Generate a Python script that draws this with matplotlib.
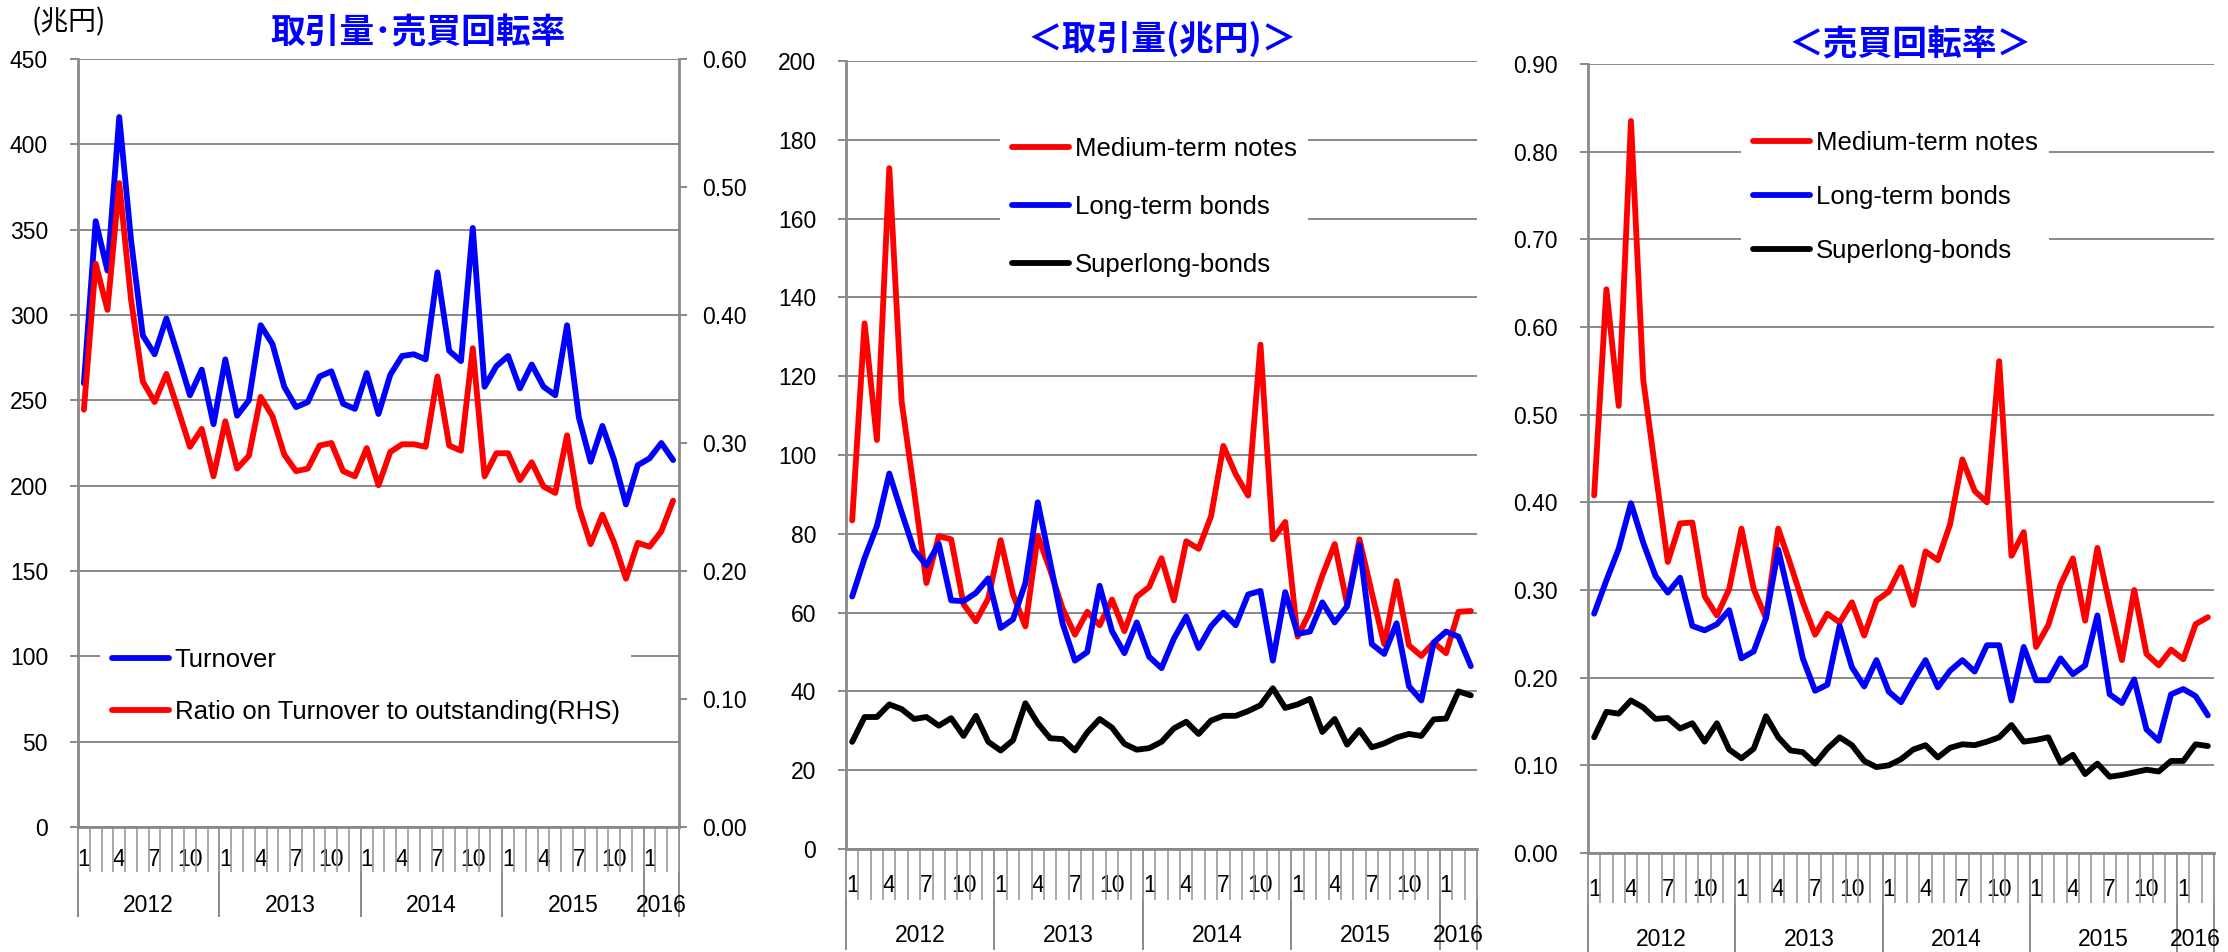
import numpy as np
import matplotlib
matplotlib.use("Agg")
import matplotlib.pyplot as plt
from matplotlib.ticker import FormatStrFormatter

# ---- data: monthly, Jan 2012 - Mar 2016 ----
years = ["2012", "2013", "2014", "2015", "2016"]
months_in_year = [12, 12, 12, 12, 3]
labelled_months = [1, 4, 7, 10]

# total turnover (trillion yen) and turnover ratio (RHS)
turnover = [260, 355, 326, 416, 344, 288, 277, 298, 276, 253, 268, 236,
            274, 241, 250, 294, 283, 258, 246, 249, 264, 267, 248, 245,
            266, 242, 265, 276, 277, 274, 325, 279, 273, 351, 258, 270,
            276, 257, 271, 258, 253, 294, 240, 214, 235, 215, 189, 212,
            216, 225, 215]
turnover_ratio = [0.326, 0.440, 0.404, 0.503, 0.412, 0.348, 0.332, 0.354, 0.326, 0.297, 0.311, 0.274,
                  0.317, 0.280, 0.290, 0.336, 0.321, 0.291, 0.278, 0.280, 0.298, 0.300, 0.278, 0.274,
                  0.296, 0.267, 0.293, 0.299, 0.299, 0.297, 0.352, 0.298, 0.294, 0.374, 0.274, 0.292,
                  0.292, 0.271, 0.285, 0.266, 0.261, 0.306, 0.250, 0.221, 0.244, 0.222, 0.194, 0.222,
                  0.219, 0.231, 0.255]

# trading volume by maturity (trillion yen)
mtn_volume = [83.4, 133.4, 103.8, 172.8, 113.5, 91.0, 67.5, 79.4, 78.6, 62.1, 57.8, 63.6,
              78.4, 64.6, 56.5, 79.5, 70.8, 61.1, 54.4, 60.2, 56.8, 63.3, 55.3, 64.0,
              66.5, 73.8, 63.1, 78.1, 76.2, 84.4, 102.3, 95.1, 89.7, 128.0, 78.6, 83.0,
              53.9, 60.2, 69.4, 77.4, 62.1, 78.6, 65.0, 52.0, 68.0, 51.7, 49.0, 52.4,
              49.7, 60.2, 60.4]
ltb_volume = [64.1, 73.8, 82.0, 95.3, 85.4, 75.9, 72.0, 77.4, 63.1, 62.9, 65.0, 68.7,
              56.1, 58.3, 67.5, 88.0, 72.8, 57.3, 47.8, 50.0, 66.8, 55.3, 49.7, 57.5,
              48.8, 45.9, 53.4, 59.0, 51.0, 56.5, 60.0, 56.8, 64.6, 65.5, 47.8, 65.2,
              54.6, 55.2, 62.6, 57.5, 61.6, 77.2, 52.0, 49.5, 57.3, 41.3, 37.7, 52.4,
              55.2, 53.9, 46.4]
slb_volume = [27.2, 33.5, 33.5, 36.7, 35.5, 33.0, 33.5, 31.3, 33.2, 28.7, 33.8, 27.2,
              25.0, 27.6, 37.0, 31.9, 28.1, 27.9, 25.0, 29.6, 33.0, 30.8, 26.7, 25.2,
              25.6, 27.2, 30.6, 32.3, 29.2, 32.6, 33.8, 33.8, 35.0, 36.5, 40.8, 35.8,
              36.7, 38.1, 29.7, 33.0, 26.5, 30.2, 25.8, 26.8, 28.3, 29.2, 28.7, 32.9,
              33.1, 40.0, 39.0]

# turnover ratio by maturity
mtn_ratio = [0.408, 0.643, 0.510, 0.835, 0.540, 0.435, 0.332, 0.376, 0.377, 0.293, 0.271, 0.301,
             0.370, 0.301, 0.268, 0.370, 0.329, 0.286, 0.249, 0.273, 0.263, 0.286, 0.248, 0.288,
             0.298, 0.326, 0.283, 0.344, 0.334, 0.375, 0.449, 0.413, 0.400, 0.561, 0.339, 0.366,
             0.235, 0.260, 0.306, 0.336, 0.265, 0.348, 0.283, 0.220, 0.300, 0.227, 0.214, 0.232,
             0.221, 0.261, 0.269]
ltb_ratio = [0.273, 0.311, 0.347, 0.399, 0.354, 0.316, 0.297, 0.314, 0.259, 0.254, 0.261, 0.277,
             0.222, 0.230, 0.268, 0.346, 0.286, 0.222, 0.185, 0.192, 0.259, 0.212, 0.190, 0.220,
             0.184, 0.172, 0.197, 0.220, 0.189, 0.208, 0.220, 0.207, 0.237, 0.237, 0.174, 0.235,
             0.197, 0.197, 0.222, 0.204, 0.214, 0.271, 0.181, 0.171, 0.198, 0.141, 0.128, 0.181,
             0.187, 0.179, 0.157]
slb_ratio = [0.132, 0.161, 0.159, 0.174, 0.166, 0.153, 0.154, 0.142, 0.148, 0.127, 0.148, 0.118,
             0.108, 0.119, 0.156, 0.132, 0.117, 0.115, 0.102, 0.119, 0.132, 0.123, 0.105, 0.098,
             0.100, 0.107, 0.118, 0.123, 0.109, 0.120, 0.124, 0.123, 0.127, 0.132, 0.146, 0.127,
             0.129, 0.132, 0.103, 0.112, 0.090, 0.102, 0.087, 0.089, 0.092, 0.095, 0.093, 0.105,
             0.105, 0.124, 0.122]

series_labels = ["Medium-term notes", "Long-term bonds", "Superlong-bonds"]
series_colors = ["#ff0000", "#0000ff", "#000000"]

# ---- styling ----
plt.rcParams['font.family'] = ['Liberation Sans', 'Noto Sans CJK JP', 'DejaVu Sans']
CJK = ['Noto Sans CJK JP', 'DejaVu Sans']
GRID = '#898989'
TICK_GRAY = '#9a9a9a'
LW = 4.2
TICK_FS = 16.5
LEG_FS = 18.5
TITLE_FS = 25

W, H = 2228, 952
fig = plt.figure(figsize=(W / 100, H / 100), dpi=100)


def pt(pixels):
    return pixels * 72 / 100


def axes_px(left, top, right, bottom):
    return fig.add_axes([left / W, 1 - bottom / H, (right - left) / W, (bottom - top) / H])


def style_value_axis(ax):
    ax.grid(axis='y', color=GRID, linewidth=1.4)
    ax.set_axisbelow(True)
    for s in ('top', 'right'):
        ax.spines[s].set_visible(False)
    for s in ('left', 'bottom'):
        ax.spines[s].set_color(GRID)
        ax.spines[s].set_linewidth(2.0)
    ax.tick_params(axis='y', which='major', length=pt(8), width=1.4, color=GRID,
                   direction='out', pad=pt(22), labelsize=TICK_FS)


def category_axis(ax, month_len, month_center, year_center, year_len):
    n = sum(months_in_year)
    ax.set_xlim(-0.5, n - 0.5)
    pos, labs = [], []
    i = 0
    for m_count in months_in_year:
        for k in range(1, m_count + 1):
            if k in labelled_months:
                pos.append(i)
                labs.append(str(k))
            i += 1
    ax.set_xticks(pos, labs)
    ax.set_xticks(np.arange(n + 1) - 0.5, minor=True)
    ax.tick_params(axis='x', which='major', length=0, pad=pt(month_center - 9),
                   labelsize=TICK_FS)
    ax.tick_params(axis='x', which='minor', length=pt(month_len), width=1.2,
                   color=TICK_GRAY, direction='out')
    bounds = np.concatenate([[0], np.cumsum(months_in_year)]) - 0.5
    centers = (bounds[:-1] + bounds[1:]) / 2
    sec = ax.secondary_xaxis('bottom')
    sec.set_xticks(bounds, [''] * len(bounds))
    sec.set_xticks(centers, years, minor=True)
    sec.tick_params(axis='x', which='major', length=pt(year_len), width=1.4,
                    color=GRID, direction='out')
    sec.tick_params(axis='x', which='minor', length=0, pad=pt(year_center - 9),
                    labelsize=TICK_FS)
    sec.spines['bottom'].set_visible(False)


def add_legend(ax, handles, labels, left, vcenter, spacing):
    leg = ax.legend(handles, labels, loc='center left',
                    bbox_to_anchor=(left / W, 1 - vcenter / H), bbox_transform=fig.transFigure,
                    frameon=True, facecolor='white', edgecolor='none', framealpha=1,
                    fancybox=False, borderaxespad=0, borderpad=0.45,
                    handlelength=2.25, handletextpad=0.2, labelspacing=spacing,
                    fontsize=LEG_FS)
    leg.set_zorder(5)
    return leg


x = np.arange(sum(months_in_year))
line_kw = dict(linewidth=LW, solid_joinstyle='round', solid_capstyle='round')

# ---- panel 1: total turnover and ratio ----
ax1 = axes_px(78, 59, 679, 827)
style_value_axis(ax1)
ax1.set_ylim(0, 450)
ax1.set_yticks(np.arange(0, 451, 50))
category_axis(ax1, month_len=45, month_center=30, year_center=76, year_len=90)
l_turn, = ax1.plot(x, turnover, color='#0000ff', **line_kw)

ax1r = ax1.twinx()
ax1r.set_ylim(0, 0.6)
ax1r.set_yticks(np.arange(0, 0.61, 0.1))
ax1r.yaxis.set_major_formatter(FormatStrFormatter('%.2f'))
for s in ('top', 'left', 'bottom'):
    ax1r.spines[s].set_visible(False)
ax1r.spines['right'].set_color(GRID)
ax1r.spines['right'].set_linewidth(2.0)
ax1r.tick_params(axis='y', length=pt(8), width=1.4, color=GRID, direction='out',
                 pad=pt(15), labelsize=TICK_FS)
l_ratio, = ax1r.plot(x, turnover_ratio, color='#ff0000', **line_kw)
add_legend(ax1r, [l_turn, l_ratio],
           ["Turnover", "Ratio on Turnover to outstanding(RHS)"],
           left=100, vcenter=686, spacing=1.12)

fig.text(418 / W, 1 - 33 / H, "取引量･売買回転率", color='#0000ff', fontsize=TITLE_FS,
         fontweight='bold', family=CJK, ha='center', va='center')
fig.text(32 / W, 1 - 22 / H, "(兆円)", color='black', fontsize=20, family=CJK,
         ha='left', va='center')

# ---- panel 2: trading volume ----
ax2 = axes_px(846, 61, 1477, 849)
style_value_axis(ax2)
ax2.set_ylim(0, 200)
ax2.set_yticks(np.arange(0, 201, 20))
category_axis(ax2, month_len=51, month_center=34, year_center=84, year_len=101)
h2 = []
for vals, c in zip([mtn_volume, ltb_volume, slb_volume], series_colors):
    ln, = ax2.plot(x, vals, color=c, **line_kw)
    h2.append(ln)
add_legend(ax2, h2, series_labels, left=1000, vcenter=207, spacing=1.32)
fig.text(1162 / W, 1 - 39 / H, "＜取引量(兆円)＞", color='#0000ff', fontsize=TITLE_FS,
         fontweight='bold', family=CJK, ha='center', va='center')

# ---- panel 3: turnover ratio ----
ax3 = axes_px(1588, 64, 2214, 853)
style_value_axis(ax3)
ax3.set_ylim(0, 0.9)
ax3.set_yticks(np.arange(0, 0.91, 0.1))
ax3.yaxis.set_major_formatter(FormatStrFormatter('%.2f'))
category_axis(ax3, month_len=50, month_center=34, year_center=84, year_len=99)
h3 = []
for vals, c in zip([mtn_ratio, ltb_ratio, slb_ratio], series_colors):
    ln, = ax3.plot(x, vals, color=c, **line_kw)
    h3.append(ln)
add_legend(ax3, h3, series_labels, left=1741, vcenter=197, spacing=1.15)
fig.text(1910 / W, 1 - 45 / H, "＜売買回転率＞", color='#0000ff', fontsize=TITLE_FS,
         fontweight='bold', family=CJK, ha='center', va='center')

fig.savefig("out.png", dpi=100, facecolor='white')
